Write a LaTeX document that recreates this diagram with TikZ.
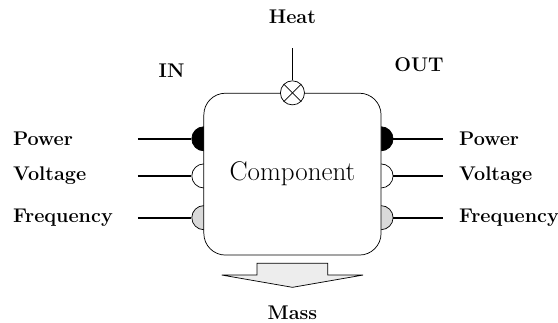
\documentclass[tikz,border=0pt]{standalone}
\usetikzlibrary{positioning}

\tikzset{
  port/.style={circle, draw, inner sep=0pt, minimum size=0.47cm},
  signal/.style={line width=1pt},
  lbl/.style={font=\fontsize{11}{13}\selectfont\bfseries},
}

\begin{document}
\begin{tikzpicture}
  \useasboundingbox (-5.71,-2.89) rectangle (5.185,3.40);

  % ports first, the box covers their inner half
  \node[port, fill=black] (in1) at (-1.73,0.69) {};
  \node[port, fill=white] (in2) at (-1.73,-0.035) {};
  \node[port, fill=black!15] (in3) at (-1.73,-0.85) {};
  \node[port, fill=black] (out1) at (1.73,0.69) {};
  \node[port, fill=white] (out2) at (1.73,-0.035) {};
  \node[port, fill=black!15] (out3) at (1.73,-0.85) {};

  \node[draw, fill=white, rounded corners=12pt, minimum width=3.46cm,
        minimum height=3.16cm, font=\fontsize{15}{18}\selectfont] (comp) at (0,0) {Component};

  \node[lbl] (in) at (-2.36,2.02) {IN};
  \node[lbl] (out) at (2.47,2.13) {OUT};

  \coordinate (in1-end) at (-3.02,0.69);
  \coordinate (in2-end) at (-3.02,-0.035);
  \coordinate (in3-end) at (-3.02,-0.85);
  \draw[signal] (in1-end) -- (in1.west);
  \draw[signal] (in2-end) -- (in2.west);
  \draw[signal] (in3-end) -- (in3.west);
  \node[lbl, anchor=west] (in1-lbl) at (-5.58,0.69) {Power};
  \node[lbl, anchor=west] (in2-lbl) at (-5.58,-0.035) {Voltage};
  \node[lbl, anchor=west] (in3-lbl) at (-5.58,-0.85) {Frequency};

  \coordinate (out1-end) at (2.94,0.69);
  \coordinate (out2-end) at (2.94,-0.035);
  \coordinate (out3-end) at (2.94,-0.85);
  \draw[signal] (out1.east) -- (out1-end);
  \draw[signal] (out2.east) -- (out2-end);
  \draw[signal] (out3.east) -- (out3-end);
  \node[lbl, anchor=west] (out1-lbl) at (3.13,0.69) {Power};
  \node[lbl, anchor=west] (out2-lbl) at (3.13,-0.035) {Voltage};
  \node[lbl, anchor=west] (out3-lbl) at (3.13,-0.85) {Frequency};

  % heat
  \node[port, fill=white] (heat) at (comp.north) {};
  \draw (heat.north east) -- (heat.south west);
  \draw (heat.north west) -- (heat.south east);
  \coordinate (heat-end) at (0,2.46);
  \draw[signal] (heat-end) -- (heat.north);
  \node[lbl] (heat-lbl) at (0,3.08) {Heat};

  % mass
  \draw[fill=black!7] (-0.69,-1.74) -- (0.69,-1.74) -- (0.69,-1.97) -- (1.38,-1.97)
    -- (0,-2.21) -- (-1.38,-1.97) -- (-0.69,-1.97) -- cycle;
  \node[lbl] (mass) at (0,-2.70) {Mass};
\end{tikzpicture}
\end{document}
